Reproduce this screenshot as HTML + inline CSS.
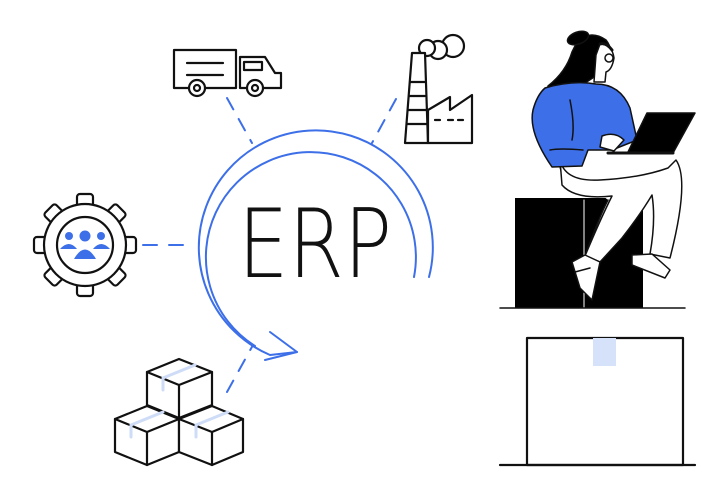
<!DOCTYPE html>
<html><head><meta charset="utf-8"><style>
html,body{margin:0;padding:0;background:#fff;}
svg{display:block;}
</style></head><body>
<svg width="727" height="500" viewBox="0 0 727 500" xmlns="http://www.w3.org/2000/svg" fill="none" stroke-linecap="round" stroke-linejoin="round">
<!-- Cycle arrow -->
<g stroke="#3d6fe8" stroke-width="2">
  <path d="M429 277 A117 117 0 1 0 270 355 L297 352"/>
  <path d="M414 277 A105 105 0 1 0 255 346"/>
  <path d="M270 332 L297 352 L265 360"/>
  <path d="M227 98 L252 143" stroke-dasharray="13 11"/>
  <path d="M396 99 L372 143" stroke-dasharray="13 11"/>
  <path d="M143 245 L195 245" stroke-dasharray="14 12"/>
  <path d="M227 392 L253 345" stroke-dasharray="13 11"/>
</g>
<text x="238" y="277" font-family="DejaVu Sans, Liberation Sans, sans-serif" font-size="95" font-weight="200" fill="#111" textLength="154" lengthAdjust="spacingAndGlyphs">ERP</text>

<!-- Truck -->
<g stroke="#111" stroke-width="2.2" fill="#fff">
  <rect x="174" y="50" width="62" height="38"/>
  <path d="M240 88 V57 H265 L275 73 H281 V88 Z"/>
  <path d="M244 62 H262 V70 H244 Z"/>
  <path d="M187 63 H223 M187 75 H223"/>
  <circle cx="197" cy="88" r="8"/><circle cx="197" cy="88" r="3"/>
  <circle cx="255" cy="88" r="8"/><circle cx="255" cy="88" r="3"/>
</g>

<!-- Factory -->
<g stroke="#111" stroke-width="2.2" fill="#fff">
  <circle cx="453" cy="46" r="11"/>
  <circle cx="438" cy="50" r="9"/>
  <circle cx="427" cy="48" r="8"/>
  <path d="M405 143 L412 53 H425 L428 143 Z"/>
  <path d="M408 110 H426 M409 96 H425 M410 82 H425 M407 124 H427"/>
  <path d="M428 143 V110 L450 97 V110 L472 95 V143 Z"/>
  <path d="M435 120 H440 M448 120 H453 M458 120 H463"/>
</g>

<!-- Gear -->
<g transform="translate(85,245)" stroke="#111" stroke-width="2.2" fill="#fff">
  <g>
    <rect x="-8" y="-51" width="16" height="16" rx="3"/>
    <rect x="-8" y="-51" width="16" height="16" rx="3" transform="rotate(45)"/>
    <rect x="-8" y="-51" width="16" height="16" rx="3" transform="rotate(90)"/>
    <rect x="-8" y="-51" width="16" height="16" rx="3" transform="rotate(135)"/>
    <rect x="-8" y="-51" width="16" height="16" rx="3" transform="rotate(180)"/>
    <rect x="-8" y="-51" width="16" height="16" rx="3" transform="rotate(225)"/>
    <rect x="-8" y="-51" width="16" height="16" rx="3" transform="rotate(270)"/>
    <rect x="-8" y="-51" width="16" height="16" rx="3" transform="rotate(315)"/>
  </g>
  <circle r="41"/>
  <circle r="28"/>
  <g fill="#3d6fe8" stroke="none">
    <circle cx="-16" cy="-9" r="4"/><circle cx="16" cy="-9" r="4"/><circle cx="0" cy="-9" r="5.5"/>
    <path d="M-25 4 Q-16 -6 -8 4 Z"/><path d="M8 4 Q16 -6 25 4 Z"/>
    <path d="M-11 14 Q0 -5 11 14 Z"/>
  </g>
</g>

<!-- Boxes -->
<g stroke="#111" stroke-width="2.2" fill="#fff">
  <path d="M179 359 L212 372 L212 405 L179 418 L147 405 L147 372 Z"/>
  <path d="M147 372 L179 385 L212 372 M179 385 V418"/>
  <path d="M147 406 L179 419 L179 452 L147 465 L115 452 L115 419 Z"/>
  <path d="M115 419 L147 432 L179 419 M147 432 V465"/>
  <path d="M212 406 L243 419 L243 452 L212 465 L179 452 L179 419 Z"/>
  <path d="M179 419 L212 432 L243 419 M212 432 V465"/>
</g>
<g stroke="#cfdcf7" stroke-width="3">
  <path d="M163 378 L195 365 M163 378 V390"/>
  <path d="M131 425 L163 412 M131 425 V437"/>
  <path d="M196 425 L228 412 M196 425 V437"/>
</g>

<!-- Lower box -->
<rect x="527" y="338" width="156" height="127" stroke="#111" stroke-width="2.2" fill="#fff"/>
<rect x="593" y="338" width="23" height="28" fill="#d6e2fa"/>
<path d="M500 465 H695" stroke="#111" stroke-width="2.2"/>

<!-- Stool -->
<rect x="515" y="198" width="128" height="110" fill="#000"/>
<path d="M584 200 V308" stroke="#fff" stroke-width="1"/>
<path d="M500 308 H685" stroke="#111" stroke-width="1.5"/>

<!-- Woman -->
<g stroke="#111" stroke-width="1.5">
  <!-- legs -->
  <path d="M560 160 Q558 185 590 185 L645 175 Q630 205 620 230 L598 262 L585 256 Q600 215 608 200" fill="#fff"/>
  <path d="M560 160 Q565 182 600 180 Q640 178 668 168 L676 160 Q690 180 670 258 L650 254 Q656 220 652 195 Q640 215 622 238 L600 262 L585 256 Q600 220 612 196 Q575 200 562 185 Z" fill="#fff"/>
  <!-- shoes -->
  <path d="M572 262 L585 255 L600 262 L592 300 L580 288 Z" fill="#fff"/>
  <path d="M575 272 L590 268" />
  <path d="M632 255 L652 254 L670 270 L665 278 L632 265 Z" fill="#fff"/>
  <!-- hair -->
  <path d="M578 40 Q592 30 606 40 Q614 50 608 62 L600 72 Q585 86 562 92 Q546 94 548 86 Q566 72 572 52 Z" fill="#000"/>
  <!-- face -->
  <path d="M600 44 Q612 44 614 58 Q612 70 606 72 L605 82 L594 82 L596 55 Z" fill="#fff"/>
  <circle cx="609" cy="58" r="4" fill="none"/>
  <path d="M600 44 Q606 42 612 50" stroke-width="3"/>
  <!-- sweater -->
  <path d="M545 88 Q572 80 596 84 Q620 84 630 108 L637 140 L612 150 L588 150 L582 166 L552 167 Q528 132 533 110 Q537 95 545 88 Z" fill="#3d6fe8"/>
  <path d="M570 100 Q575 125 572 140 M583 150 Q560 148 550 150" fill="none"/>
  <!-- hand -->
  <path d="M602 136 Q615 131 624 140 L614 151 L600 147 Z" fill="#fff"/>
  <!-- laptop -->
  <path d="M628 152 L647 113 L695 113 L673 153 Z" fill="#000"/>
  <path d="M608 153 H673" stroke-width="3"/>
  <!-- bun -->
  <ellipse cx="578" cy="38" rx="11" ry="6" fill="#000" transform="rotate(-20 578 38)"/>
</g>
</svg>
</body></html>
